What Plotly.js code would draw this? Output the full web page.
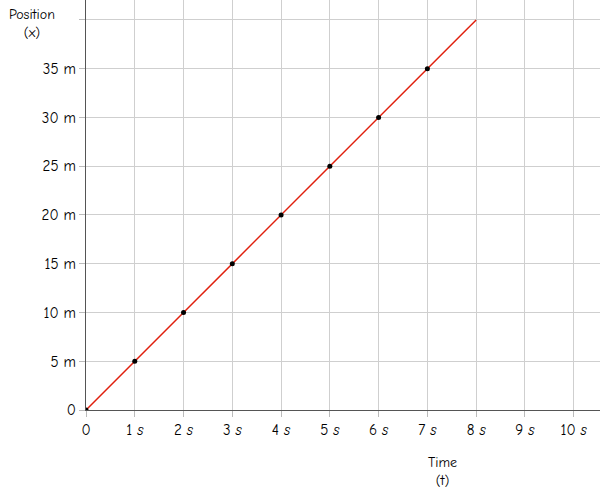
<!DOCTYPE html>
<html><head><meta charset="utf-8">
<script src="https://cdn.plot.ly/plotly-3.0.1.min.js"></script>
<style>body{margin:0;background:#fff}#chart{width:600px;height:498px}</style>
</head><body><div id="chart"></div>
<script>
const times = [0, 1, 2, 3, 4, 5, 6, 7, 8];
const positions = [0, 5, 10, 15, 20, 25, 30, 35, 40];
const dotTimes = [0, 1, 2, 3, 4, 5, 6, 7];
const dotPositions = [0, 5, 10, 15, 20, 25, 30, 35];
const xTickVals = [0, 1, 2, 3, 4, 5, 6, 7, 8, 9, 10];
const xTickText = ["0", "1 <i>s</i>", "2 <i>s</i>", "3 <i>s</i>", "4 <i>s</i>", "5 <i>s</i>", "6 <i>s</i>", "7 <i>s</i>", "8 <i>s</i>", "9 <i>s</i>", "10 <i>s</i>"];
const yTickVals = [0, 5, 10, 15, 20, 25, 30, 35, 40];
const yTickText = ["0", "5 m", "10 m", "15 m", "20 m", "25 m", "30 m", "35 m", ""];

const fam = "'Comic Sans MS', 'Comic Neue', 'Open Sans', sans-serif";
const font = {family: fam, size: 14, color: "#000"};
const tickFont = {family: fam, size: 15, color: "#000"};

Plotly.newPlot("chart", [
  {x: times, y: positions, mode: "lines", line: {color: "#e0200e", width: 1.5}, hoverinfo: "skip"},
  {x: dotTimes, y: dotPositions, mode: "markers", marker: {color: "#000", size: 5}}
], {
  width: 600, height: 498,
  margin: {l: 86, r: 0, t: 0, b: 88},
  showlegend: false,
  paper_bgcolor: "#fff", plot_bgcolor: "#fff",
  font: font,
  xaxis: {range: [0, 10.54], tickvals: xTickVals, ticktext: xTickText, ticks: "outside", ticklen: 6, tickcolor: "#bbb", tickfont: tickFont,
          showgrid: true, gridcolor: "#cfcfcf", zeroline: false, showline: true, linecolor: "#555", linewidth: 1, fixedrange: true},
  yaxis: {range: [0, 42.05], tickvals: yTickVals, ticktext: yTickText, ticks: "outside", ticklen: 6, tickcolor: "#bbb", tickfont: tickFont,
          showgrid: true, gridcolor: "#cfcfcf", zeroline: false, showline: true, linecolor: "#555", linewidth: 1, fixedrange: true},
  annotations: [
    {text: "Position<br>(x)", xref: "paper", yref: "paper", x: 0, y: 1, xanchor: "center", yanchor: "top", showarrow: false,
     xshift: -54, yshift: -4, font: font},
    {text: "Time<br>(t)", xref: "x", yref: "paper", x: 7.3, y: 0, xanchor: "center", yanchor: "top", showarrow: false,
     yshift: -42, font: font}
  ]
}, {displayModeBar: false, staticPlot: true});
</script></body></html>
